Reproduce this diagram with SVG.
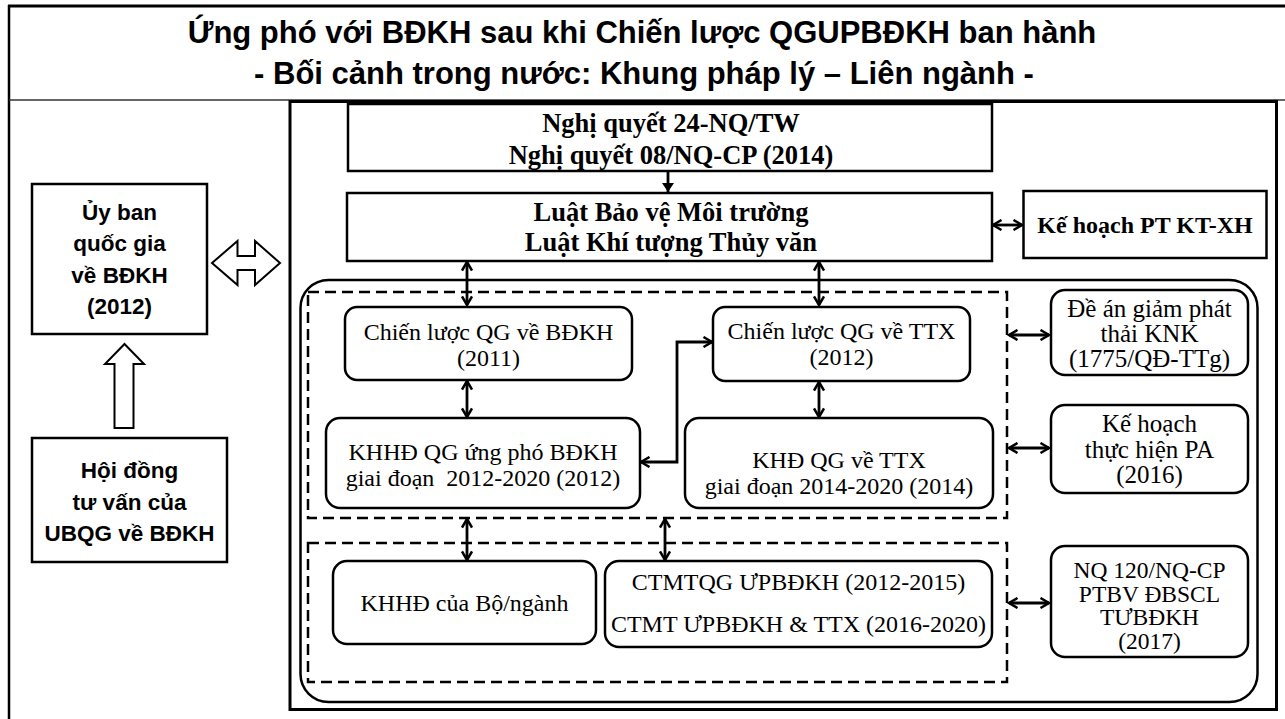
<svg xmlns="http://www.w3.org/2000/svg" width="1285" height="719" viewBox="0 0 1285 719">
<style>
.bg{fill:#fff}
.frame{fill:none;stroke:#000;stroke-width:3}
.box{fill:#fff;stroke:#000;stroke-width:2.5}
.rbox{fill:#fff;stroke:#000;stroke-width:2.5}
.dash{fill:none;stroke:#000;stroke-width:2.5;stroke-dasharray:11 6}
.title{font-family:"Liberation Sans",Arial,sans-serif;font-weight:bold;font-size:31px;text-anchor:middle;fill:#000}
.lbl{font-family:"Liberation Sans",Arial,sans-serif;font-weight:bold;font-size:22.5px;text-anchor:middle;fill:#000}
.sb{font-family:"Liberation Serif","Times New Roman",serif;font-weight:bold;font-size:26.5px;text-anchor:middle;fill:#000}
.sb24{font-family:"Liberation Serif","Times New Roman",serif;font-weight:bold;font-size:24px;text-anchor:middle;fill:#000}
.sr{font-family:"Liberation Serif","Times New Roman",serif;font-size:24px;text-anchor:middle;fill:#000}
.sr25{font-family:"Liberation Serif","Times New Roman",serif;font-size:25px;text-anchor:middle;fill:#000}
.sr23{font-family:"Liberation Serif","Times New Roman",serif;font-size:23.5px;text-anchor:middle;fill:#000}
.con{fill:none;stroke:#000;stroke-width:2.8}
.block{fill:#fff;stroke:#000;stroke-width:2}
</style>
<defs>
<marker id="ah" viewBox="0 0 12 12" markerUnits="userSpaceOnUse" markerWidth="12" markerHeight="12" refX="10" refY="6" orient="auto-start-reverse">
<path d="M1.5,1 L10,6 L1.5,11" fill="none" stroke="#000" stroke-width="2.5"/>
</marker>
<marker id="fh" viewBox="0 0 10 12" markerUnits="userSpaceOnUse" markerWidth="10" markerHeight="12" refX="9" refY="6" orient="auto">
<path d="M0,0 L9,6 L0,12 z" fill="#000"/>
</marker>
</defs>
<rect class="bg" x="0" y="0" width="1285" height="719"/>

<!-- outer frame -->
<g id="frame">
<line x1="8" y1="6" x2="1285" y2="6" stroke="#000" stroke-width="3"/>
<line x1="9" y1="5" x2="9" y2="719" stroke="#000" stroke-width="2.5"/>
<line x1="9" y1="100" x2="1285" y2="100" stroke="#333" stroke-width="1.5"/>
<rect class="frame" x="290" y="101.5" width="986.5" height="608"/>
</g>

<g id="title">
<text class="title" x="642" y="43">Ứng phó với BĐKH sau khi Chiến lược QGUPBĐKH ban hành</text>
<text class="title" x="644" y="84">- Bối cảnh trong nước: Khung pháp lý – Liên ngành -</text>
</g>

<!-- left side -->
<g id="uyban">
<rect class="box" x="32" y="184" width="175" height="150"/>
<text class="lbl" x="119.5" y="220">Ủy ban</text>
<text class="lbl" x="119.5" y="251">quốc gia</text>
<text class="lbl" x="119.5" y="283">về BĐKH</text>
<text class="lbl" x="119.5" y="314">(2012)</text>
</g>
<g id="hoidong">
<rect class="box" x="32" y="438" width="195" height="124"/>
<text class="lbl" x="129.5" y="478">Hội đồng</text>
<text class="lbl" x="129.5" y="510">tư vấn của</text>
<text class="lbl" x="129.5" y="541">UBQG về BĐKH</text>
</g>

<!-- big rounded container and dashed groups -->
<g id="container">
<rect class="rbox" x="300.5" y="280" width="957" height="422" rx="28" ry="28"/>
</g>
<g id="dash1"><rect class="dash" x="308" y="292" width="699" height="226"/></g>
<g id="dash2"><rect class="dash" x="308" y="543" width="699" height="139"/></g>

<g id="nghiquyet">
<rect class="box" x="348" y="104" width="644" height="67"/>
<text class="sb" x="671" y="132">Nghị quyết 24-NQ/TW</text>
<text class="sb" x="671" y="164">Nghị quyết 08/NQ-CP (2014)</text>
</g>
<g id="luat">
<rect class="box" x="347" y="193" width="645" height="68"/>
<text class="sb" x="671" y="221">Luật Bảo vệ Môi trường</text>
<text class="sb" x="671" y="251">Luật Khí tượng Thủy văn</text>
</g>
<g id="khptktxh">
<rect class="box" x="1023.5" y="191" width="243" height="67"/>
<text class="sb24" x="1145" y="233">Kế hoạch PT KT-XH</text>
</g>

<g id="cl-bdkh">
<rect class="rbox" x="345" y="307" width="287" height="73" rx="12"/>
<text class="sr" x="488.5" y="340">Chiến lược QG về BĐKH</text>
<text class="sr" x="488.5" y="366">(2011)</text>
</g>
<g id="khhd-bdkh">
<rect class="rbox" x="326" y="418" width="314" height="90" rx="14"/>
<text class="sr" x="483" y="460">KHHĐ QG ứng phó BĐKH</text>
<text class="sr" x="483" y="486" xml:space="preserve">giai đoạn  2012-2020 (2012)</text>
</g>
<g id="cl-ttx">
<rect class="rbox" x="713" y="307" width="257" height="74" rx="12"/>
<text class="sr" x="841.5" y="339">Chiến lược QG về TTX</text>
<text class="sr" x="841.5" y="365">(2012)</text>
</g>
<g id="khd-ttx">
<rect class="rbox" x="685" y="418" width="308" height="90" rx="14"/>
<text class="sr" x="839" y="468">KHĐ QG về TTX</text>
<text class="sr" x="839" y="494">giai đoạn 2014-2020 (2014)</text>
</g>
<g id="khhd-bo">
<rect class="rbox" x="333" y="561" width="263" height="83" rx="14"/>
<text class="sr" x="464.5" y="611">KHHĐ của Bộ/ngành</text>
</g>
<g id="ctmt">
<rect class="rbox" x="605" y="561" width="387" height="86" rx="14"/>
<text class="sr" x="798.5" y="590">CTMTQG ƯPBĐKH (2012-2015)</text>
<text class="sr" x="798.5" y="632">CTMT ƯPBĐKH &amp; TTX (2016-2020)</text>
</g>
<g id="dean">
<rect class="rbox" x="1051" y="290" width="197" height="85" rx="14"/>
<text class="sr25" x="1149.5" y="317">Đề án giảm phát</text>
<text class="sr25" x="1149.5" y="342">thải KNK</text>
<text class="sr25" x="1149.5" y="367">(1775/QĐ-TTg)</text>
</g>
<g id="khpa">
<rect class="rbox" x="1051" y="405" width="197" height="88" rx="14"/>
<text class="sr25" x="1149.5" y="432">Kế hoạch</text>
<text class="sr25" x="1149.5" y="458">thực hiện PA</text>
<text class="sr25" x="1149.5" y="483">(2016)</text>
</g>
<g id="nq120">
<rect class="rbox" x="1051" y="546" width="197" height="111" rx="14"/>
<text class="sr23" x="1149.5" y="578">NQ 120/NQ-CP</text>
<text class="sr23" x="1149.5" y="601.5">PTBV ĐBSCL</text>
<text class="sr23" x="1149.5" y="625">TƯBĐKH</text>
<text class="sr23" x="1149.5" y="648.5">(2017)</text>
</g>

<!-- connectors -->
<g id="connectors">
<polygon class="block" points="212,263 237.5,241 237.5,256 255,256 255,241 280,263 255,285 255,270 237.5,270 237.5,285"/>
<polygon class="block" points="124.5,344 144,364 133.5,364 133.5,428 114.5,428 114.5,364 105,364"/>
<line class="con" x1="668" y1="172" x2="668" y2="192" marker-end="url(#fh)"/>
<line class="con" x1="993" y1="225" x2="1022" y2="225" marker-start="url(#ah)" marker-end="url(#ah)"/>
<line class="con" x1="467" y1="262" x2="467" y2="305" marker-start="url(#ah)" marker-end="url(#ah)"/>
<line class="con" x1="819" y1="262" x2="819" y2="305" marker-start="url(#ah)" marker-end="url(#ah)"/>
<line class="con" x1="467" y1="381" x2="467" y2="417" marker-start="url(#ah)" marker-end="url(#ah)"/>
<line class="con" x1="819" y1="382" x2="819" y2="417" marker-start="url(#ah)" marker-end="url(#ah)"/>
<path class="con" d="M641,462 H677 V342 H712" marker-start="url(#ah)" marker-end="url(#ah)"/>
<line class="con" x1="467" y1="519" x2="467" y2="560" marker-start="url(#ah)" marker-end="url(#ah)"/>
<line class="con" x1="665" y1="519" x2="665" y2="560" marker-start="url(#ah)" marker-end="url(#ah)"/>
<line class="con" x1="1009" y1="335" x2="1049" y2="335" marker-start="url(#ah)" marker-end="url(#ah)"/>
<line class="con" x1="1009" y1="448" x2="1049" y2="448" marker-start="url(#ah)" marker-end="url(#ah)"/>
<line class="con" x1="1009" y1="603" x2="1049" y2="603" marker-start="url(#ah)" marker-end="url(#ah)"/>
</g>
</svg>
